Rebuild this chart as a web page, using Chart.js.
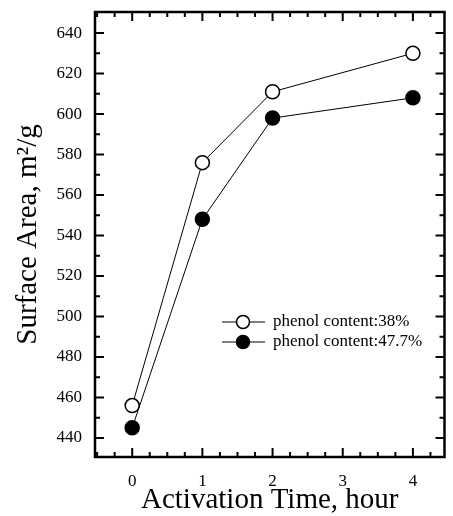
<!DOCTYPE html>
<html>
<head>
<meta charset="utf-8">
<script src="https://cdn.jsdelivr.net/npm/chart.js@4.4.1/dist/chart.umd.min.js"></script>
<style>
  html, body { margin: 0; padding: 0; background: #fff; }
  #wrap { width: 453px; height: 516px; }
</style>
</head>
<body>
<div id="wrap"><canvas id="chart" width="453" height="516"></canvas></div>
<script>
// data
const hours = [0, 1, 2, 4];
const phenol38 = [456, 576, 611, 630];
const phenol477 = [445, 548, 598, 608];
const seriesLabels = ["phenol content:38%", "phenol content:47.7%"];
const xTicks = [0, 1, 2, 3, 4];
const yTicks = [440, 460, 480, 500, 520, 540, 560, 580, 600, 620, 640];

const serif = "'Liberation Serif', 'DejaVu Serif', serif";

function toPoints(ys) {
    return hours.map((h, i) => ({ x: h, y: ys[i] }));
}

// frame + inward ticks on all four sides, plus the small legend box
const framePlugin = {
    id: "frame",
    afterDraw(c) {
        const ctx = c.ctx;
        const a = c.chartArea;
        const xs = c.scales.x, ys = c.scales.y;
        ctx.save();
        ctx.strokeStyle = "#000";
        ctx.lineCap = "butt";

        // minor + major ticks
        ctx.lineWidth = 2;
        for (let v = -0.5; v <= 4.5; v += 0.25) {
            const px = xs.getPixelForValue(v);
            if (px < a.left + 2 || px > a.right - 2) continue;
            const len = Number.isInteger(v) ? 9 : 5;
            ctx.beginPath();
            ctx.moveTo(px, a.bottom); ctx.lineTo(px, a.bottom - len);
            ctx.moveTo(px, a.top); ctx.lineTo(px, a.top + len);
            ctx.stroke();
        }
        for (let v = 430; v <= 650; v += 10) {
            const py = ys.getPixelForValue(v);
            if (py < a.top + 2 || py > a.bottom - 2) continue;
            const len = v % 20 === 0 ? 9 : 5;
            ctx.beginPath();
            ctx.moveTo(a.left, py); ctx.lineTo(a.left + len, py);
            ctx.moveTo(a.right, py); ctx.lineTo(a.right - len, py);
            ctx.stroke();
        }

        ctx.lineWidth = 2.5;
        ctx.strokeRect(a.left, a.top, a.right - a.left, a.bottom - a.top);

        // legend
        const rows = [322, 342];
        ctx.font = "17px " + serif;
        ctx.textBaseline = "middle";
        c.data.datasets.forEach((ds, i) => {
            const y = rows[i];
            ctx.lineWidth = 1;
            ctx.beginPath();
            ctx.moveTo(222, y); ctx.lineTo(265, y);
            ctx.stroke();
            ctx.beginPath();
            ctx.arc(243, y, 6.5, 0, Math.PI * 2);
            ctx.fillStyle = ds.pointBackgroundColor;
            ctx.fill();
            ctx.lineWidth = 1.5;
            ctx.stroke();
            ctx.fillStyle = "#000";
            ctx.fillText(ds.label, 273, y);
        });
        ctx.restore();
    }
};

const ctx = document.getElementById("chart").getContext("2d");
new Chart(ctx, {
    type: "line",
    data: {
        datasets: [
            {
                label: seriesLabels[0],
                data: toPoints(phenol38),
                borderColor: "#000",
                borderWidth: 1,
                pointBackgroundColor: "#fff",
                pointBorderColor: "#000",
                pointBorderWidth: 1.5,
                pointRadius: 7,
                tension: 0
            },
            {
                label: seriesLabels[1],
                data: toPoints(phenol477),
                borderColor: "#000",
                borderWidth: 1,
                pointBackgroundColor: "#000",
                pointBorderColor: "#000",
                pointBorderWidth: 1.5,
                pointRadius: 7,
                tension: 0
            }
        ]
    },
    options: {
        responsive: false,
        animation: false,
        layout: { padding: { left: 12, top: 12, right: 2, bottom: 0 } },
        plugins: {
            legend: { display: false },
            tooltip: { enabled: false }
        },
        scales: {
            x: {
                type: "linear",
                min: -0.53,
                max: 4.45,
                grid: { display: false },
                border: { display: false },
                afterBuildTicks: s => { s.ticks = xTicks.map(v => ({ value: v })); },
                afterFit: s => { s.height = 59; s.paddingLeft = 0; s.paddingRight = 0; },
                ticks: {
                    color: "#000",
                    padding: 6,
                    maxRotation: 0,
                    font: { family: serif, size: 17 }
                },
                title: {
                    display: true,
                    text: "Activation Time, hour",
                    color: "#000",
                    padding: { top: 0, bottom: 1 },
                    font: { family: serif, size: 29, lineHeight: 1 }
                }
            },
            y: {
                min: 430.6,
                max: 650.4,
                grid: { display: false },
                border: { display: false },
                afterBuildTicks: s => { s.ticks = yTicks.map(v => ({ value: v })); },
                afterFit: s => { s.width = 83; s.paddingTop = 0; s.paddingBottom = 0; },
                ticks: {
                    color: "#000",
                    padding: 5,
                    font: { family: serif, size: 17 }
                },
                title: {
                    display: true,
                    text: "Surface Area, m²/g",
                    color: "#000",
                    padding: { top: 0, bottom: 0 },
                    font: { family: serif, size: 29, lineHeight: 1.1 }
                }
            }
        }
    },
    plugins: [framePlugin]
});
</script>
</body>
</html>
